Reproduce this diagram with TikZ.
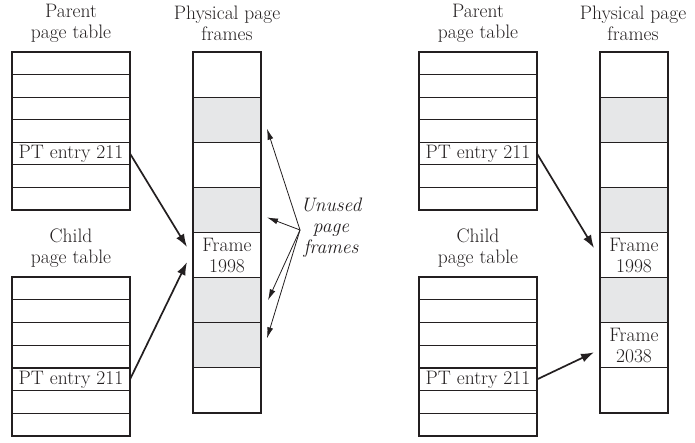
\documentclass[tikz,border=0pt]{standalone}
\usetikzlibrary{arrows.meta,calc}
\definecolor{ink}{HTML}{231F20}
\definecolor{shade}{HTML}{E6E7E8}
\newcommand\fs{\fontsize{19.5}{21}\selectfont}
\begin{document}
\begin{tikzpicture}[x=1pt,y=-1pt,
  every node/.style={font=\fs, text=ink},
  cell/.style={draw=ink, line width=0.9pt, minimum width=118pt, minimum height=22.6pt, inner sep=0pt, outer sep=0pt},
  pframe/.style={draw=ink, line width=0.9pt, minimum width=68pt, minimum height=45.1pt, inner sep=0pt, outer sep=0pt, align=center},
  used/.style={pframe, fill=white},
  free/.style={pframe, fill=shade},
  lbl/.style={align=center, inner sep=0pt},
  border/.style={draw=ink, line width=1.6pt},
  ptr/.style={draw=ink, line width=1.7pt, -{Latex[length=13pt,width=9pt]}},
  note/.style={draw=ink, line width=0.8pt, -{Latex[length=11pt,width=6pt]}}]
\useasboundingbox (0,0) rectangle (695,443);

% ---------------- left panel ----------------
\node[lbl] (tpL) at (71,23) {Parent\\page table};
\node[lbl] (tfL) at (227,23) {Physical page\\frames};
\node[lbl] (tcL) at (71,248.5) {Child\\page table};
\foreach \i in {1,...,7}
  \node[cell] (pL\i) at (71,{52+22.57*(\i-0.5)}) {\ifnum\i=5 PT entry 211\fi};
\foreach \i in {1,...,7}
  \node[cell] (cL\i) at (71,{277+22.75*(\i-0.5)}) {\ifnum\i=5 PT entry 211\fi};
\foreach \i/\s in {1/used,2/free,3/used,4/free,5/used,6/free,7/free,8/used}
  \node[\s] (fL\i) at (227,{52+45.125*(\i-0.5)}) {\ifnum\i=5 Frame\\1998\fi};
\draw[border] (pL1.north west) rectangle (pL7.south east);
\draw[border] (cL1.north west) rectangle (cL7.south east);
\draw[border] (fL1.north west) rectangle (fL8.south east);

\draw[ptr] (pL5.east) -- ($(fL5.west)+(-6,-8)$);
\draw[ptr] (cL5.east) -- ($(fL5.west)+(-6,7)$);

\node[lbl, font=\fs\itshape] (un) at (331,228) {Unused\\page\\frames};
\coordinate (hub) at (300,230);
\draw[note] (hub) -- ($(fL2.east)+(6,9)$);
\draw[note] (hub) -- ($(fL4.east)+(6,7.5)$);
\draw[note] (hub) -- ($(fL6.east)+(7,0)$);
\draw[note] (hub) -- ($(fL7.east)+(6,-7)$);

% ---------------- right panel ----------------
\node[lbl] (tpR) at (478,23) {Parent\\page table};
\node[lbl] (tfR) at (633,23) {Physical page\\frames};
\node[lbl] (tcR) at (478,248.5) {Child\\page table};
\foreach \i in {1,...,7}
  \node[cell] (pR\i) at (478,{52+22.57*(\i-0.5)}) {\ifnum\i=5 PT entry 211\fi};
\foreach \i in {1,...,7}
  \node[cell] (cR\i) at (478,{277+22.75*(\i-0.5)}) {\ifnum\i=5 PT entry 211\fi};
\foreach \i/\s in {1/used,2/free,3/used,4/free,5/used,6/free,7/used,8/used}
  \node[\s] (fR\i) at (634,{52+45.125*(\i-0.5)}) {\ifnum\i=5 Frame\\1998\fi\ifnum\i=7 Frame\\2038\fi};
\draw[border] (pR1.north west) rectangle (pR7.south east);
\draw[border] (cR1.north west) rectangle (cR7.south east);
\draw[border] (fR1.north west) rectangle (fR8.south east);

\draw[ptr] (pR5.east) -- ($(fR5.west)+(-6,-7)$);
\draw[ptr] (cR5.east) -- ($(fR7.west)+(-6,7)$);
\end{tikzpicture}
\end{document}
